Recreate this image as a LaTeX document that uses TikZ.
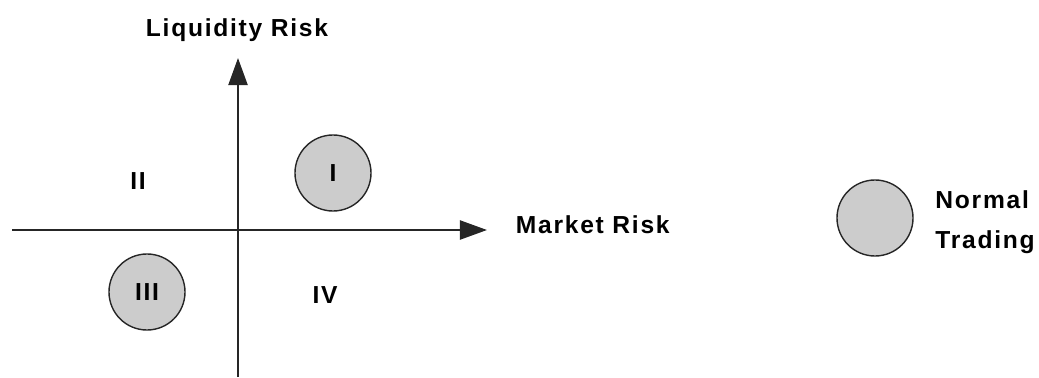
\documentclass[tikz,border=0pt]{standalone}
\usepackage{fontspec}
\setmainfont{Liberation Sans}[LetterSpace=7]
\usepackage{tikz}
\usetikzlibrary{positioning,arrows.meta}

\begin{document}
\begin{tikzpicture}[x=0.025cm, y=0.025cm, font=\fontsize{17.5}{28}\selectfont\bfseries,
    axis/.style={line width=1.4pt, draw=black!85, -{Triangle[length=0.68cm, width=0.48cm]}},
    zone/.style={circle, draw=black!85, line width=1pt, fill=black!20, minimum size=1.9cm, inner sep=0pt}]
    \useasboundingbox (0,0) rectangle (1039,377);

    \coordinate (xs) at (12,147);
    \coordinate (xe) at (487,147);
    \coordinate (ys) at (238,0);
    \coordinate (ye) at (238,319);

    \draw[axis] (xs) -- (xe);
    \draw[axis] (ys) -- (ye);

    \node (ylab) at (237,347) {Liquidity Risk};
    \node [right=0.6cm of xe, yshift=0.12cm] (xlab) {Market Risk};

    % quadrants
    \node [zone] (q1) at (333,204) {I};
    \node (q2) at (138,196) {II};
    \node [zone] (q3) at (147,85) {III};
    \node (q4) at (325,82) {IV};

    % legend
    \node [zone] (key) at (875,159) {};
    \node [right=0.42cm of key, yshift=-0.1cm, align=left] (keylab) {Normal\\Trading};
\end{tikzpicture}
\end{document}
